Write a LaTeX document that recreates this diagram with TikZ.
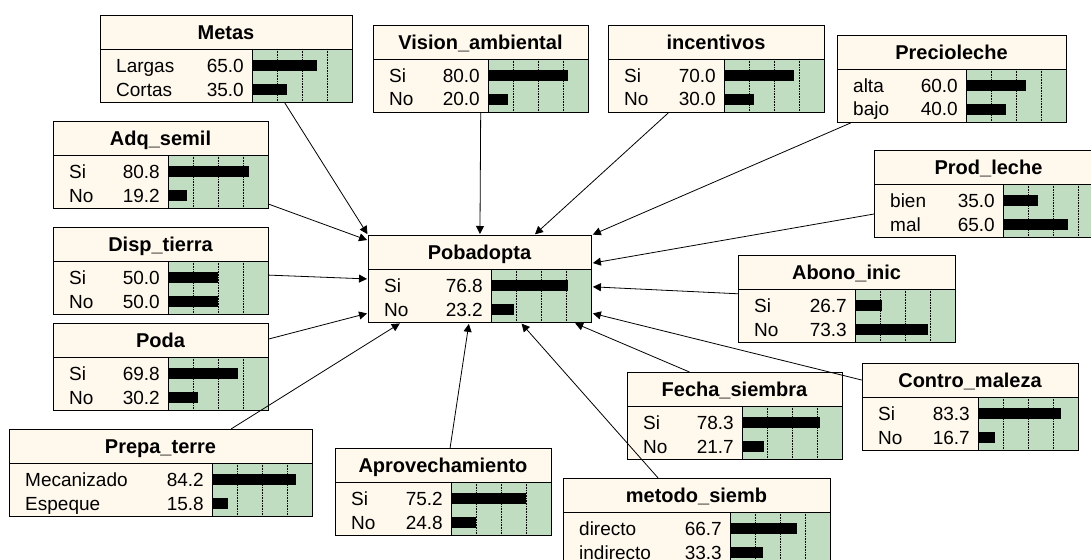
\documentclass[tikz,border=0pt]{standalone}
\usepackage{fontspec}
\setmainfont{Liberation Sans}
\usetikzlibrary{arrows.meta}
\definecolor{headfill}{RGB}{255,249,237}
\definecolor{barfill}{RGB}{193,221,193}
\tikzset{
  netbox/.style={draw, line width=0.9pt, inner sep=0pt, minimum height=87pt},
  nodetitle/.style={inner sep=0pt, font=\bfseries\fontsize{20}{24}\selectfont},
  statelabel/.style={inner sep=0pt, font=\fontsize{19}{22}\selectfont},
  gridline/.style={densely dotted, line width=0.6pt},
  link/.style={-{Triangle[length=8pt,width=8pt]}, line width=0.8pt, shorten >=1pt},
}
% #1 name, #2 left, #3 top, #4 width of label part, #5 title, #6/#7 and #8/#9 states
\newcommand{\netnode}[9]{%
  \begin{scope}[shift={(#2,#3)}]
    \fill[headfill] (0,0) rectangle (#4+100,87);
    \fill[barfill] (#4,34) rectangle (#4+100,87);
    \foreach \g in {25,50,75}
      \draw[gridline] (#4+\g,34) -- (#4+\g,87);
    \fill (#4,45) rectangle (#4+#7,56);
    \fill (#4,69) rectangle (#4+#9,80);
    \draw[line width=0.9pt] (0,34) -- (#4+100,34) (#4,34) -- (#4,87);
    \node[netbox, minimum width=#4pt+100pt, anchor=north west] (#1) at (0,0) {};
    \node[nodetitle, anchor=base] at ({(#4+100)/2},24.5) {#5};
    \node[statelabel, anchor=base west] at (16,57.5) {#6};
    \node[statelabel, anchor=base east] at (#4-8,57.5) {#7};
    \node[statelabel, anchor=base west] at (16,81) {#8};
    \node[statelabel, anchor=base east] at (#4-8,81) {#9};
  \end{scope}}
\begin{document}
\begin{tikzpicture}[x=1pt, y=-1pt]
  \useasboundingbox (0,0) rectangle (1091,559);
  \clip (0,0) rectangle (1091,559);
  \fill[white] (0,0) rectangle (1091,559);
  % parents
  \netnode{metas}{100}{15}{152}{Metas}{Largas}{65.0}{Cortas}{35.0}
  \netnode{vision}{373}{25}{115}{Vision\_ambiental}{Si}{80.0}{No}{20.0}
  \netnode{incent}{608}{25}{116}{incentivos}{Si}{70.0}{No}{30.0}
  \netnode{precio}{837}{35}{129}{Precioleche}{alta}{60.0}{bajo}{40.0}
  \netnode{adq}{53}{121}{115}{Adq\_semil}{Si}{80.8}{No}{19.2}
  \netnode{prodle}{874}{150}{129}{Prod\_leche}{bien}{35.0}{mal}{65.0}
  \netnode{disp}{53}{227}{115}{Disp\_tierra}{Si}{50.0}{No}{50.0}
  \netnode{abono}{738}{255}{117}{Abono\_inic}{Si}{26.7}{No}{73.3}
  \netnode{poda}{53}{323}{115}{Poda}{Si}{69.8}{No}{30.2}
  \netnode{control}{862}{363}{116}{Contro\_maleza}{Si}{83.3}{No}{16.7}
  \netnode{fecha}{627}{372}{115}{Fecha\_siembra}{Si}{78.3}{No}{21.7}
  \netnode{prepa}{9}{429}{203}{Prepa\_terre}{Mecanizado}{84.2}{Espeque}{15.8}
  \netnode{aprov}{335}{448}{116}{Aprovechamiento}{Si}{75.2}{No}{24.8}
  \netnode{metodo}{563}{478}{167}{metodo\_siemb}{directo}{66.7}{indirecto}{33.3}
  % child
  \netnode{pob}{368}{235}{123}{Pobadopta}{Si}{76.8}{No}{23.2}
  % links
  \draw[link] (metas.-37) -- (pob.north west);
  \draw[link] (vision) -- (pob.north);
  \draw[link] (incent) -- (pob.39);
  \draw[link] (precio) -- (pob.north east);
  \draw[link] (prodle) -- (pob.8);
  \draw[link] (abono) -- (pob.-4);
  \draw[link] (control) -- (pob.-17);
  \draw[link] (fecha.136) -- (pob.-25);
  \draw[link] (metodo) -- (pob.-47);
  \draw[link] (aprov) -- (pob.-104);
  \draw[link] (prepa) -- (pob.-151);
  \draw[link] (poda) -- (pob.197);
  \draw[link] (disp) -- (pob.west);
  \draw[link] (adq) -- (pob.161);
\end{tikzpicture}
\end{document}
